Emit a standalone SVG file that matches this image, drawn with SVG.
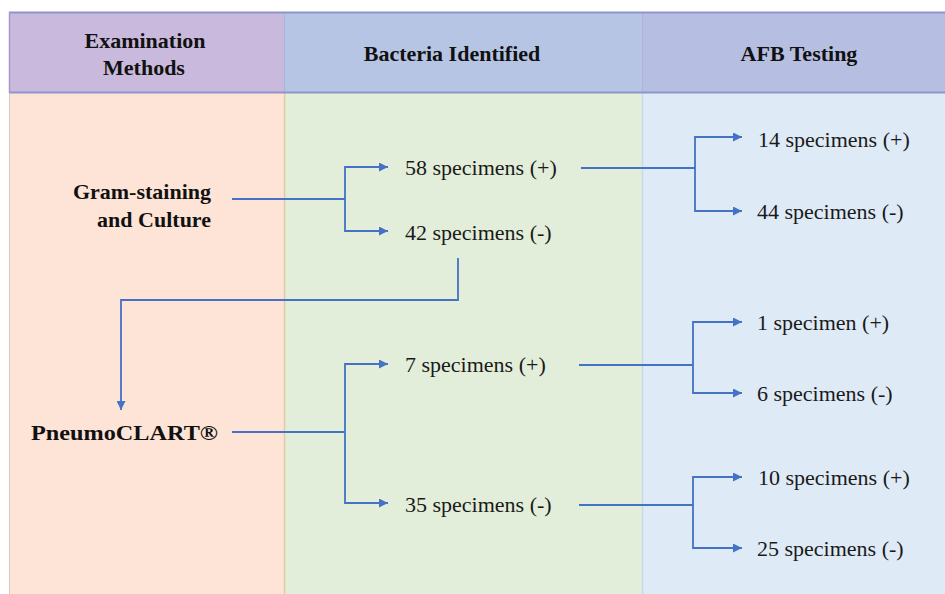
<svg xmlns="http://www.w3.org/2000/svg" width="945" height="594" viewBox="0 0 945 594">
<style>
.hd{font-family:'Liberation Serif','DejaVu Serif',serif;font-weight:bold;font-size:22px;fill:#111;text-anchor:middle}
.lb{font-family:'Liberation Serif','DejaVu Serif',serif;font-weight:bold;font-size:22px;fill:#111}
.tx{font-family:'Liberation Serif','DejaVu Serif',serif;font-size:22px;fill:#1a1a1a}
.cn{fill:none;stroke:#4472c4;stroke-width:1.8}
.ar{fill:none;stroke:#4472c4;stroke-width:1.8;marker-end:url(#ah)}
</style>
<defs>
<marker id="ah" viewBox="0 0 10 10" refX="10" refY="5" markerWidth="10" markerHeight="9" markerUnits="userSpaceOnUse" orient="auto">
<path d="M0,0 L10,5 L0,10 z" fill="#4472c4"/>
</marker>
</defs>
<rect x="0" y="0" width="945" height="594" fill="#ffffff"/>
<g id="background">
<rect x="9" y="93" width="275" height="501" fill="#fde4d7"/>
<rect x="284" y="93" width="358" height="501" fill="#e2eed9"/>
<rect x="642" y="93" width="303" height="501" fill="#deeaf6"/>
<line x1="284.5" y1="93" x2="284.5" y2="594" stroke="#e3c9a4" stroke-width="1.5"/>
<line x1="642.5" y1="93" x2="642.5" y2="594" stroke="#c9d9ea" stroke-width="1.5"/>
<line x1="9.5" y1="93" x2="9.5" y2="594" stroke="#d9c8c0" stroke-width="1"/>
<rect x="9" y="12" width="275" height="81" fill="#c9b9dc"/>
<rect x="284" y="12" width="358" height="81" fill="#b7c5e5"/>
<rect x="642" y="12" width="303" height="81" fill="#b6bee1"/>
<line x1="284.5" y1="12" x2="284.5" y2="93" stroke="#aab5dc" stroke-width="1"/>
<line x1="642.5" y1="12" x2="642.5" y2="93" stroke="#aab4dc" stroke-width="1"/>
<line x1="9" y1="12.5" x2="945" y2="12.5" stroke="#8d96cc" stroke-width="2"/>
<line x1="9" y1="92.5" x2="945" y2="92.5" stroke="#8d96cc" stroke-width="2"/>
<line x1="9.5" y1="12" x2="9.5" y2="93" stroke="#a896c8" stroke-width="1.5"/>
</g>
<g id="header-methods"><text class="hd" x="145" y="48">Examination</text><text class="hd" x="144" y="75">Methods</text></g>
<g id="header-bacteria"><text class="hd" x="452" y="61">Bacteria Identified</text></g>
<g id="header-afb"><text class="hd" x="799" y="61">AFB Testing</text></g>
<g id="gram"><text class="lb" text-anchor="end" x="211" y="199">Gram-staining</text><text class="lb" text-anchor="end" x="211" y="227">and Culture</text></g>
<g id="pneumo"><text class="lb" x="31" y="440" textLength="187" lengthAdjust="spacingAndGlyphs">PneumoCLART®</text></g>
<g id="b58"><text class="tx" x="405" y="175">58 specimens (+)</text></g>
<g id="b42"><text class="tx" x="405" y="240">42 specimens (-)</text></g>
<g id="b7"><text class="tx" x="405" y="372">7 specimens (+)</text></g>
<g id="b35"><text class="tx" x="405" y="512">35 specimens (-)</text></g>
<g id="a14"><text class="tx" x="758" y="147">14 specimens (+)</text></g>
<g id="a44"><text class="tx" x="757" y="219">44 specimens (-)</text></g>
<g id="a1"><text class="tx" x="757" y="330">1 specimen (+)</text></g>
<g id="a6"><text class="tx" x="757" y="401">6 specimens (-)</text></g>
<g id="a10"><text class="tx" x="758" y="485">10 specimens (+)</text></g>
<g id="a25"><text class="tx" x="757" y="556">25 specimens (-)</text></g>
<g id="connectors">
<path class="cn" d="M232,199 H345"/>
<path class="ar" d="M345,199 V167 H388"/>
<path class="ar" d="M345,199 V231 H388"/>
<path class="ar" d="M458,258 V300 H121 V410"/>
<path class="cn" d="M232,432 H345"/>
<path class="ar" d="M345,432 V364 H388"/>
<path class="ar" d="M345,432 V503 H388"/>
<path class="cn" d="M581,168 H695"/>
<path class="ar" d="M695,168 V137 H742"/>
<path class="ar" d="M695,168 V211 H742"/>
<path class="cn" d="M579,365 H693"/>
<path class="ar" d="M693,365 V322 H742"/>
<path class="ar" d="M693,365 V393 H742"/>
<path class="cn" d="M579,505 H693"/>
<path class="ar" d="M693,505 V477 H742"/>
<path class="ar" d="M693,505 V548 H742"/>
</g>
</svg>
